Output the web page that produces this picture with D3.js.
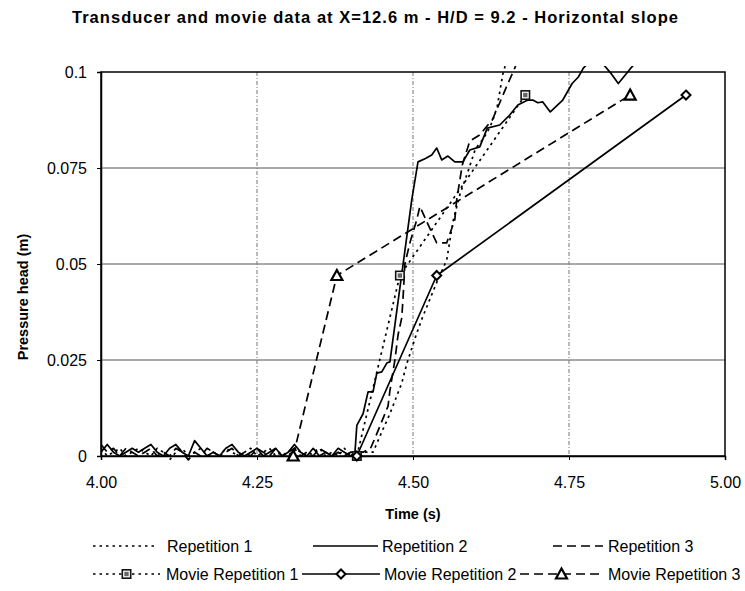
<!DOCTYPE html>
<html>
<head>
<meta charset="utf-8">
<script src="https://cdn.jsdelivr.net/npm/d3@7"></script>
<style>
  html, body { margin: 0; padding: 0; background: #ffffff; }
  svg { display: block; font-family: "Liberation Sans", Arial, sans-serif; }
</style>
</head>
<body>
<svg id="chart" width="745" height="591"></svg>
<script>
const CHART_TITLE = "Transducer and movie data at X=12.6 m  - H/D = 9.2 - Horizontal slope";
const X_TITLE = "Time (s)";
const Y_TITLE = "Pressure head (m)";

const xTickValues = [4.0, 4.25, 4.5, 4.75, 5.0];
const xTickLabels = ["4.00", "4.25", "4.50", "4.75", "5.00"];
const yTickValues = [0, 0.025, 0.05, 0.075, 0.1];
const yTickLabels = ["0", "0.025", "0.05", "0.075", "0.1"];

// quiet part of the transducer records, one sample every 0.01 s
const noiseTime = [4.00, 4.01, 4.02, 4.03, 4.04, 4.05, 4.06, 4.07, 4.08, 4.09,
  4.10, 4.11, 4.12, 4.13, 4.14, 4.15, 4.16, 4.17, 4.18, 4.19,
  4.20, 4.21, 4.22, 4.23, 4.24, 4.25, 4.26, 4.27, 4.28, 4.29,
  4.30, 4.31, 4.32, 4.33, 4.34, 4.35, 4.36, 4.37, 4.38, 4.39, 4.40];
const rep1Noise = [0.002, 0.000, 0.001, 0.002, 0.000, 0.001, 0.002, 0.001, 0.000, 0.002,
  0.001, -0.001, 0.001, 0.002, 0.000, 0.001, 0.002, 0.000, 0.001, 0.000,
  0.002, 0.001, 0.000, 0.001, 0.002, 0.000, 0.001, 0.002, 0.000, 0.001,
  0.000, 0.002, 0.001, 0.000, 0.001, 0.002, 0.000, 0.001, 0.000, 0.002, 0.000];
const rep2Noise = [0.001, 0.003, 0.001, 0.000, 0.001, 0.002, 0.001, 0.002, 0.003, 0.001,
  0.000, 0.002, 0.003, 0.001, 0.000, 0.004, 0.002, 0.000, 0.001, 0.000,
  0.002, 0.003, 0.001, 0.000, 0.001, 0.002, 0.000, 0.001, 0.002, 0.000,
  0.001, 0.003, 0.001, 0.000, 0.002, 0.000, 0.001, 0.000, 0.002, 0.001, 0.000];
const rep3Noise = [0.003, 0.001, 0.002, 0.000, 0.002, 0.001, 0.000, 0.001, 0.002, 0.000,
  0.001, 0.000, 0.002, 0.001, -0.001, 0.001, 0.000, 0.002, 0.001, 0.000,
  0.001, 0.002, 0.000, 0.001, 0.000, 0.002, 0.001, 0.000, 0.002, 0.000,
  0.001, 0.002, 0.000, 0.001, 0.000, 0.002, 0.001, 0.000, 0.001, 0.000, 0.001];

// wave front part of each transducer record
const rep1RiseTime = [4.41, 4.42, 4.436, 4.452, 4.463, 4.482, 4.490, 4.498, 4.506, 4.515,
  4.525, 4.540, 4.554, 4.564, 4.575, 4.590, 4.600, 4.610, 4.618, 4.627, 4.635, 4.644, 4.652];
const rep1RiseHead = [0.000, 0.001, 0.001, 0.007, 0.011, 0.019, 0.024, 0.028, 0.032, 0.036,
  0.040, 0.046, 0.051, 0.061, 0.068, 0.075, 0.080, 0.082, 0.084, 0.087, 0.091, 0.0995, 0.104];

const rep2RiseTime = [4.407, 4.410, 4.420, 4.428, 4.436, 4.442, 4.450, 4.458, 4.463, 4.498,
  4.508, 4.520, 4.530, 4.538, 4.546, 4.556, 4.567, 4.580, 4.591, 4.607,
  4.619, 4.639, 4.655, 4.668, 4.684, 4.692, 4.700, 4.708, 4.720, 4.740,
  4.755, 4.765, 4.773, 4.790, 4.805, 4.818, 4.829, 4.848, 4.860];
const rep2RiseHead = [0.001, 0.008, 0.011, 0.0167, 0.0167, 0.0216, 0.0219, 0.0242, 0.0245, 0.0667,
  0.0766, 0.0775, 0.0784, 0.0802, 0.0771, 0.0781, 0.0766, 0.0766, 0.0797, 0.0805,
  0.0854, 0.0862, 0.0888, 0.0914, 0.0927, 0.0927, 0.0920, 0.0922, 0.0896, 0.0927,
  0.0970, 0.0987, 0.1010, 0.1040, 0.1020, 0.0995, 0.0970, 0.1008, 0.1030];

const rep3RiseTime = [4.42, 4.432, 4.440, 4.447, 4.460, 4.463, 4.471, 4.476, 4.482, 4.484,
  4.487, 4.495, 4.506, 4.511, 4.525, 4.538, 4.554, 4.567, 4.570, 4.579,
  4.591, 4.607, 4.619, 4.627, 4.639, 4.651, 4.663, 4.670];
const rep3RiseHead = [0.001, 0.002, 0.005, 0.0078, 0.013, 0.017, 0.025, 0.0315, 0.036, 0.041,
  0.050, 0.0555, 0.0615, 0.065, 0.060, 0.0555, 0.0555, 0.0615, 0.0667, 0.0758,
  0.082, 0.0836, 0.086, 0.0875, 0.092, 0.0966, 0.101, 0.104];

// movie readings
const movie1Time = [4.41, 4.479, 4.680];
const movie1Head = [0.000, 0.047, 0.094];
const movie2Time = [4.41, 4.538, 4.9375];
const movie2Head = [0.000, 0.047, 0.094];
const movie3Time = [4.308, 4.378, 4.848];
const movie3Head = [0.000, 0.047, 0.094];

const seriesNames = ["Repetition 1", "Repetition 2", "Repetition 3",
  "Movie Repetition 1", "Movie Repetition 2", "Movie Repetition 3"];

const DOTTED = "2.5,4";
const DASHED = "9,5";

const svg = d3.select("#chart");
const plot = { left: 101, right: 725, top: 72, bottom: 456 };

const x = d3.scaleLinear().domain([4, 5]).range([plot.left, plot.right]);
const y = d3.scaleLinear().domain([0, 0.1]).range([plot.bottom, plot.top]);

function zipSeries(times, heads) {
  return times.map((t, i) => ({ t, h: heads[i] }));
}

const rep1 = zipSeries(noiseTime.concat(rep1RiseTime), rep1Noise.concat(rep1RiseHead));
const rep2 = zipSeries(noiseTime.concat(rep2RiseTime), rep2Noise.concat(rep2RiseHead));
const rep3 = zipSeries(noiseTime.concat(rep3RiseTime), rep3Noise.concat(rep3RiseHead));
const movie1 = zipSeries(movie1Time, movie1Head);
const movie2 = zipSeries(movie2Time, movie2Head);
const movie3 = zipSeries(movie3Time, movie3Head);

// title
svg.append("text")
  .attr("x", 72)
  .attr("y", 23)
  .attr("textLength", 606)
  .attr("lengthAdjust", "spacing")
  .attr("font-size", 16.5)
  .attr("font-weight", "bold")
  .text(CHART_TITLE);

// grid
svg.append("g")
  .selectAll("line")
  .data([0.025, 0.05, 0.075])
  .join("line")
  .attr("x1", plot.left)
  .attr("x2", plot.right)
  .attr("y1", (d) => y(d))
  .attr("y2", (d) => y(d))
  .attr("stroke", "#555")
  .attr("stroke-width", 1);

svg.append("g")
  .selectAll("line")
  .data([4.25, 4.5, 4.75])
  .join("line")
  .attr("x1", (d) => x(d))
  .attr("x2", (d) => x(d))
  .attr("y1", plot.top)
  .attr("y2", plot.bottom)
  .attr("stroke", "#777")
  .attr("stroke-width", 1)
  .attr("stroke-dasharray", "4,2,1,2");

// frame
svg.append("rect")
  .attr("x", plot.left)
  .attr("y", plot.top)
  .attr("width", plot.right - plot.left)
  .attr("height", plot.bottom - plot.top)
  .attr("fill", "none")
  .attr("stroke", "#000")
  .attr("stroke-width", 1.5);

// axes
const xAxis = svg.append("g")
  .attr("transform", `translate(0,${plot.bottom})`)
  .call(d3.axisBottom(x).tickValues(xTickValues).tickSize(4).tickFormat((d, i) => xTickLabels[i]));
xAxis.select(".domain").attr("stroke-width", 1.5);
xAxis.selectAll("text")
  .attr("y", 32)
  .attr("dy", 0)
  .attr("font-size", 16)
  .attr("font-family", "Liberation Sans, Arial, sans-serif")
  .attr("fill", "#000");

const yAxis = svg.append("g")
  .attr("transform", `translate(${plot.left},0)`)
  .call(d3.axisLeft(y).tickValues(yTickValues).tickSize(4).tickFormat((d, i) => yTickLabels[i]));
yAxis.select(".domain").attr("stroke-width", 1.5);
yAxis.selectAll("text")
  .attr("x", -14)
  .attr("dy", "0.36em")
  .attr("font-size", 16)
  .attr("font-family", "Liberation Sans, Arial, sans-serif")
  .attr("fill", "#000");

svg.append("text")
  .attr("x", 413)
  .attr("y", 519)
  .attr("text-anchor", "middle")
  .attr("font-size", 14.5)
  .attr("font-weight", "bold")
  .text(X_TITLE);

svg.append("text")
  .attr("transform", "translate(28,297) rotate(-90)")
  .attr("text-anchor", "middle")
  .attr("font-size", 14.5)
  .attr("font-weight", "bold")
  .text(Y_TITLE);

// series
svg.append("defs")
  .append("clipPath")
  .attr("id", "plot-clip")
  .append("rect")
  .attr("x", plot.left)
  .attr("y", plot.top - 6)
  .attr("width", plot.right - plot.left)
  .attr("height", plot.bottom - plot.top + 12);

const line = d3.line().x((d) => x(d.t)).y((d) => y(d.h));
const seriesLayer = svg.append("g").attr("clip-path", "url(#plot-clip)");

const lineSeries = [
  { data: rep1, dash: DOTTED },
  { data: rep3, dash: DASHED },
  { data: rep2, dash: null },
  { data: movie1, dash: DOTTED },
  { data: movie3, dash: DASHED },
  { data: movie2, dash: null },
];

seriesLayer.selectAll("path")
  .data(lineSeries)
  .join("path")
  .attr("d", (s) => line(s.data))
  .attr("fill", "none")
  .attr("stroke", "#000")
  .attr("stroke-width", 1.7)
  .attr("stroke-linejoin", "round")
  .attr("stroke-dasharray", (s) => s.dash);

function drawSquare(g) {
  g.append("rect").attr("x", -5).attr("y", -5).attr("width", 10).attr("height", 10).attr("fill", "#111");
  g.append("rect").attr("x", -2.8).attr("y", -2.8).attr("width", 5.6).attr("height", 5.6)
    .attr("fill", "#666").attr("stroke", "#fff").attr("stroke-width", 1.2);
}

function drawDiamond(g) {
  g.append("path").attr("d", "M0,-4.5L4.5,0L0,4.5L-4.5,0Z")
    .attr("fill", "#fff").attr("stroke", "#000").attr("stroke-width", 2);
}

function drawTriangle(g) {
  g.append("path").attr("d", "M0,-5.5L5.5,4.5L-5.5,4.5Z")
    .attr("fill", "#fff").attr("stroke", "#000").attr("stroke-width", 2.2);
}

const markerSeries = [
  { data: movie1, draw: drawSquare },
  { data: movie2, draw: drawDiamond },
  { data: movie3, draw: drawTriangle },
];

markerSeries.forEach((s) => {
  svg.append("g")
    .selectAll("g")
    .data(s.data)
    .join("g")
    .attr("transform", (d) => `translate(${x(d.t)},${y(d.h)})`)
    .each(function () { s.draw(d3.select(this)); });
});

// legend
const legendItems = [
  { name: seriesNames[0], row: 0, x0: 93, x1: 157, tx: 167, dash: DOTTED, draw: null },
  { name: seriesNames[1], row: 0, x0: 313, x1: 378, tx: 382, dash: null, draw: null },
  { name: seriesNames[2], row: 0, x0: 553, x1: 603, tx: 608, dash: DASHED, draw: null },
  { name: seriesNames[3], row: 1, x0: 93, x1: 160, tx: 166, dash: DOTTED, draw: drawSquare },
  { name: seriesNames[4], row: 1, x0: 302, x1: 380, tx: 384, dash: null, draw: drawDiamond },
  { name: seriesNames[5], row: 1, x0: 520, x1: 603, tx: 608, dash: DASHED, draw: drawTriangle },
];

const legend = svg.append("g");
legendItems.forEach((item) => {
  const baseY = item.row === 0 ? 552 : 580;
  const lineY = baseY - 6;
  legend.append("line")
    .attr("x1", item.x0)
    .attr("x2", item.x1)
    .attr("y1", lineY)
    .attr("y2", lineY)
    .attr("stroke", "#000")
    .attr("stroke-width", 1.7)
    .attr("stroke-dasharray", item.dash);
  if (item.draw) {
    const g = legend.append("g").attr("transform", `translate(${(item.x0 + item.x1) / 2},${lineY})`);
    item.draw(g);
  }
  legend.append("text")
    .attr("x", item.tx)
    .attr("y", baseY)
    .attr("font-size", 16)
    .text(item.name);
});
</script>
</body>
</html>
